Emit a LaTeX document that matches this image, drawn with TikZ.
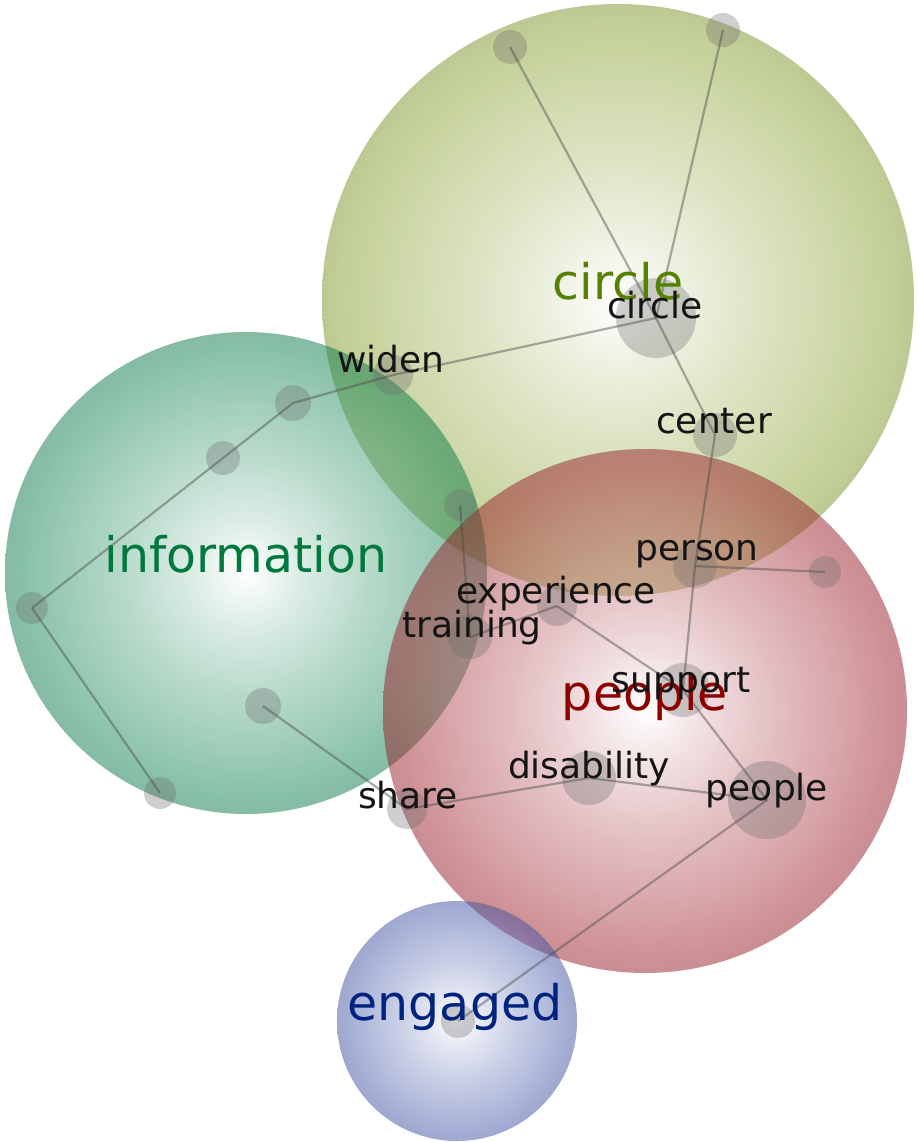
\documentclass[tikz,border=0pt]{standalone}
\usepackage{fontspec}
\setmainfont{DejaVu Sans}
\definecolor{olivec}{RGB}{135,160,45}
\definecolor{tealc}{RGB}{15,130,80}
\definecolor{redc}{RGB}{160,35,45}
\definecolor{bluec}{RGB}{70,90,170}
\definecolor{olivetxt}{RGB}{85,130,0}
\definecolor{tealtxt}{RGB}{0,120,62}
\definecolor{redtxt}{RGB}{140,0,0}
\definecolor{bluetxt}{RGB}{0,35,125}
% radial fill: white core fading out to the cluster colour at the rim
\newcommand\clustershading[2]{%
  \pgfdeclareradialshading{#1}{\pgfpoint{0bp}{0bp}}{%
    color(0bp)=(white); color(6bp)=(#2!30); color(12.5bp)=(#2!58);
    color(19bp)=(#2!82); color(23.5bp)=(#2); color(25bp)=(#2!92!black);
    color(50bp)=(#2!92!black)}}
\clustershading{oliveshade}{olivec}
\clustershading{tealshade}{tealc}
\clustershading{redshade}{redc}
\clustershading{blueshade}{bluec}
\tikzset{
  cluster/.style={opacity=0.5, shading=#1},
  dot/.style={circle, fill=gray!85!black, fill opacity=0.32, draw=none, inner sep=0pt, minimum size=#1},
  link/.style={draw=gray!60!black, opacity=0.45, line width=2.2pt},
  word/.style={anchor=base, font=\fontsize{36}{40}\selectfont, text=black!92},
  topic/.style={anchor=base, font=\fontsize{49}{54}\selectfont}
}
\begin{document}
\begin{tikzpicture}[x=1pt, y=-1pt]
\useasboundingbox (0,0) rectangle (918,1142);
\fill[white] (0,0) rectangle (918,1142);

% cluster discs
\shade[cluster=oliveshade] (618,300) circle[radius=296];
\shade[cluster=tealshade] (246,573) circle[radius=241];
\shade[cluster=redshade] (645,711) circle[radius=262];
\shade[cluster=blueshade] (457,1021) circle[radius=120];

% graph nodes
\node[dot=34pt] (t1) at (510,47) {};
\node[dot=34pt] (t2) at (723,30) {};
\node[dot=80pt] (circleN) at (656,318) {};
\node[dot=40pt] (widen) at (393,375) {};
\node[dot=36pt] (w2) at (293,403) {};
\node[dot=34pt] (w3) at (223,458) {};
\node[dot=32pt] (w4) at (32,608) {};
\node[dot=32pt] (w5) at (160,793) {};
\node[dot=44pt] (center) at (715,435) {};
\node[dot=44pt] (person) at (695,566) {};
\node[dot=32pt] (p2) at (825,572) {};
\node[dot=32pt] (tr0) at (460,505) {};
\node[dot=44pt] (training) at (470,637) {};
\node[dot=40pt] (experience) at (557,606) {};
\node[dot=54pt] (support) at (683,690) {};
\node[dot=78pt] (people) at (767,800) {};
\node[dot=54pt] (disability) at (589,778) {};
\node[dot=40pt] (share) at (407,809) {};
\node[dot=36pt] (s2) at (263,706) {};
\node[dot=34pt] (engaged) at (458,1021) {};

% links
\foreach \a/\b in {t1/circleN, t2/circleN, circleN/widen, circleN/center,
  widen/w2, w2/w3, w3/w4, w4/w5, center/person, person/support, person/p2,
  tr0/training, training/experience, experience/support, support/people,
  people/engaged, s2/share, share/disability, disability/people}
  \draw[link] (\a.center) -- (\b.center);

% topic labels
\node[topic, text=olivetxt] (lcircle) at (618,299) {circle};
\node[topic, text=tealtxt] (linfo) at (246,572) {information};
\node[topic, text=redtxt] (lpeople) at (645,710) {people};
\node[topic, text=bluetxt] (lengaged) at (455,1020) {engaged};

% word labels
\node[word] (wcircle) at (655,318) {circle};
\node[word] (wwiden) at (391,372) {widen};
\node[word] (wcenter) at (714,433) {center};
\node[word] (wperson) at (697,560) {person};
\node[word] (wexperience) at (556,603) {experience};
\node[word] (wtraining) at (472,637) {training};
\node[word] (wsupport) at (681,692) {support};
\node[word] (wdisability) at (589,778) {disability};
\node[word] (wpeople) at (767,800) {people};
\node[word] (wshare) at (408,808) {share};
\end{tikzpicture}
\end{document}
